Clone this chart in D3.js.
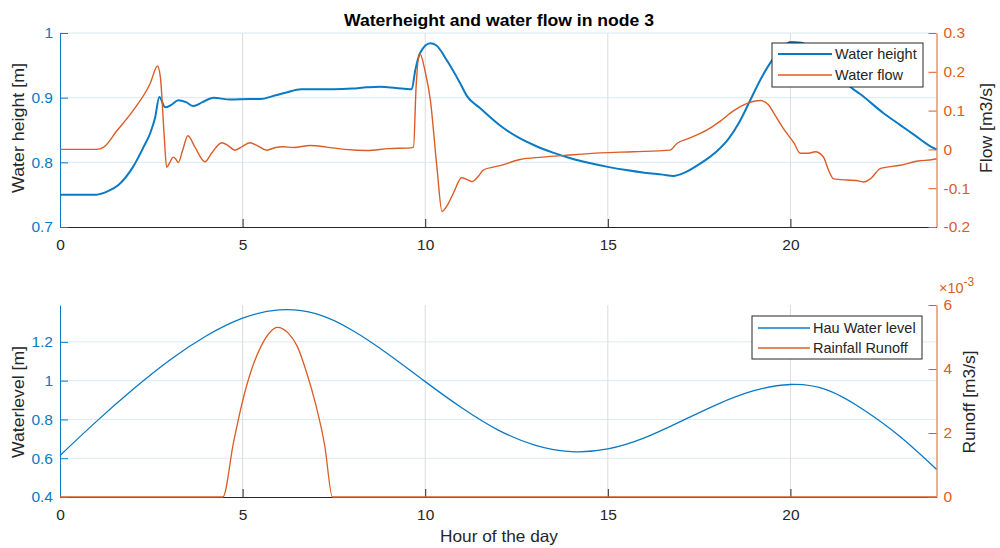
<!DOCTYPE html>
<html>
<head>
<meta charset="utf-8">
<script src="https://cdn.jsdelivr.net/npm/d3@7"></script>
<style>
  html, body { margin: 0; padding: 0; background: #fff; }
  svg { display: block; font-family: "Liberation Sans", Arial, Helvetica, sans-serif; }
</style>
</head>
<body>
<svg id="chart" width="1000" height="548"></svg>
<script>
// ---------------- DATA ----------------
const titleText = "Waterheight and water flow in node 3";
const xLabel = "Hour of the day";
const xTicks = [0, 5, 10, 15, 20];

// Top panel: water height [m] (left axis)
const waterHeight = [
  [0,0.75],[1.0,0.75],[1.3,0.755],[1.6,0.765],[2.0,0.793],[2.3,0.825],[2.47,0.845],[2.6,0.868],[2.72,0.901],
  [2.88,0.885],[3.05,0.889],[3.24,0.896],[3.45,0.893],[3.65,0.887],[3.9,0.893],[4.2,0.9],[4.66,0.897],
  [5.2,0.898],[5.5,0.898],[5.8,0.902],[6.2,0.908],[6.6,0.913],[7.0,0.913],[7.5,0.913],[8.0,0.914],
  [8.4,0.916],[8.77,0.917],[9.2,0.915],[9.63,0.913],[9.73,0.943],[9.86,0.969],[10.14,0.984],[10.3,0.981],
  [10.6,0.957],[10.96,0.922],[11.15,0.902],[11.5,0.884],[12.05,0.857],[12.5,0.84],[13.0,0.826],[13.5,0.815],
  [14.0,0.806],[14.5,0.799],[15.0,0.793],[15.5,0.788],[16.0,0.784],[16.5,0.781],[16.8,0.779],[17.1,0.784],
  [17.5,0.797],[18.0,0.818],[18.3,0.836],[18.6,0.862],[18.9,0.896],[19.2,0.93],[19.5,0.958],[19.8,0.978],
  [20.0,0.986],[20.3,0.985],[20.6,0.975],[21.0,0.952],[21.35,0.93],[21.7,0.914],[21.9,0.906],[22.55,0.876],
  [23.0,0.858],[23.4,0.842],[23.8,0.826],[24,0.82]
];
// Top panel: water flow [m3/s] (right axis)
const waterFlow = [
  [0,0],[1.0,0],[1.2,0.006],[1.54,0.046],[2.0,0.1],[2.47,0.17],[2.67,0.215],[2.75,0.185],[2.85,0.04],
  [2.92,-0.046],[3.0,-0.035],[3.1,-0.02],[3.17,-0.025],[3.24,-0.034],[3.35,-0.005],[3.5,0.035],[3.7,0.005],
  [3.97,-0.032],[4.15,-0.01],[4.43,0.017],[4.6,0.01],[4.79,-0.002],[5.0,0.008],[5.2,0.017],[5.4,0.01],
  [5.66,-0.002],[5.9,0.005],[6.1,0.007],[6.4,0.005],[6.85,0.01],[7.3,0.006],[7.8,0.0],[8.4,-0.003],
  [9.0,0.002],[9.59,0.004],[9.68,0.006],[9.75,0.16],[9.85,0.248],[10.0,0.2],[10.14,0.128],[10.32,-0.045],
  [10.46,-0.16],[10.6,-0.145],[10.77,-0.113],[11.0,-0.073],[11.15,-0.078],[11.28,-0.083],[11.45,-0.07],
  [11.6,-0.053],[12.05,-0.042],[12.6,-0.026],[13.2,-0.02],[13.88,-0.015],[14.8,-0.009],[15.7,-0.006],
  [16.7,-0.002],[16.9,0.016],[17.2,0.028],[17.53,0.041],[17.8,0.055],[18.08,0.073],[18.45,0.1],[18.8,0.118],
  [19.18,0.126],[19.4,0.115],[19.55,0.093],[19.8,0.055],[20.1,0.016],[20.27,-0.01],[20.5,-0.01],[20.68,-0.006],
  [20.9,-0.019],[21.05,-0.055],[21.18,-0.076],[21.55,-0.079],[21.8,-0.08],[22.0,-0.084],[22.2,-0.075],
  [22.47,-0.049],[23.0,-0.041],[23.5,-0.03],[23.9,-0.026],[24,-0.024]
];
const topLeftTicks = [0.7, 0.8, 0.9, 1];
const topLeftTickLabels = ["0.7", "0.8", "0.9", "1"];
const topRightTicks = [-0.2, -0.1, 0, 0.1, 0.2, 0.3];
const topRightTickLabels = ["-0.2", "-0.1", "0", "0.1", "0.2", "0.3"];
const topLegend = ["Water height", "Water flow"];

// Bottom panel: Hau water level [m] (left axis)
const hauWaterLevel = [
  [0,0.614],[1,0.79],[2,0.955],[3,1.105],[4,1.23],[5,1.322],[6,1.365],[7,1.345],[8,1.26],[9,1.135],
  [10,0.995],[11,0.86],[12,0.745],[13,0.668],[14,0.634],[15,0.648],[16,0.705],[17,0.79],[18,0.878],
  [19,0.948],[20,0.98],[21,0.952],[22,0.85],[23,0.712],[24,0.543]
];
// Bottom panel: rainfall runoff [m3/s] (right axis)
const rainfallRunoff = [
  [0,0],[4.46,0],[4.75,0.0017],[5.0,0.003],[5.25,0.004],[5.5,0.0047],[5.75,0.00515],[5.95,0.0053],
  [6.25,0.00512],[6.5,0.0047],[6.75,0.0039],[7.0,0.0029],[7.25,0.0016],[7.46,0],[24,0]
];
const botLeftTicks = [0.4, 0.6, 0.8, 1, 1.2];
const botLeftTickLabels = ["0.4", "0.6", "0.8", "1", "1.2"];
const botRightTicks = [0, 0.002, 0.004, 0.006];
const botRightTickLabels = ["0", "2", "4", "6"];
const botLegend = ["Hau Water level", "Rainfall Runoff"];

// ---------------- STYLE ----------------
const BLUE = "#0a7ac4", ORANGE = "#dc5c26", DARK = "#262626";
const GRID_GRAY = "#dcdcdc", GRID_BLUE = "#d9eaf5";
const svg = d3.select("#chart");

const x = d3.scaleLinear().domain([0, 24]).range([60, 936.5]);

function panel(cfg) {
  const g = svg.append("g");
  const yL = d3.scaleLinear().domain(cfg.leftDomain).range([cfg.bottom, cfg.top]);
  const yR = d3.scaleLinear().domain(cfg.rightDomain).range([cfg.bottom, cfg.top]);

  // horizontal grid (left axis colour)
  g.append("g").selectAll("line").data(cfg.leftTicks.filter(v => yL(v) < cfg.bottom - 1))
    .join("line")
    .attr("x1", x(0)).attr("x2", x(24))
    .attr("y1", d => yL(d)).attr("y2", d => yL(d))
    .attr("stroke", GRID_BLUE).attr("stroke-width", 1);
  // vertical grid
  g.append("g").selectAll("line").data(xTicks.filter(v => v > 0))
    .join("line")
    .attr("x1", d => x(d)).attr("x2", d => x(d))
    .attr("y1", cfg.top).attr("y2", cfg.bottom)
    .attr("stroke", GRID_GRAY).attr("stroke-width", 1);

  // x axis
  const xa = g.append("g").attr("transform", `translate(0,${cfg.bottom})`)
    .call(d3.axisBottom(x).tickValues(xTicks).tickFormat(d3.format("d"))
      .tickSizeInner(-8).tickSizeOuter(0).tickPadding(12));
  xa.select(".domain").attr("stroke", DARK);
  xa.selectAll(".tick line").attr("stroke", DARK);
  xa.selectAll("text").attr("fill", DARK).attr("font-size", 15.5);

  // left axis
  const la = g.append("g").attr("transform", `translate(${x(0)},0)`)
    .call(d3.axisLeft(yL).tickValues(cfg.leftTicks)
      .tickFormat((d, i) => cfg.leftLabels[i])
      .tickSizeInner(-8).tickSizeOuter(0).tickPadding(7));
  la.select(".domain").attr("stroke", BLUE);
  la.selectAll(".tick line").attr("stroke", BLUE);
  la.selectAll("text").attr("fill", BLUE).attr("font-size", 15.5);

  // right axis
  const ra = g.append("g").attr("transform", `translate(${x(24)},0)`)
    .call(d3.axisRight(yR).tickValues(cfg.rightTicks)
      .tickFormat((d, i) => cfg.rightLabels[i])
      .tickSizeInner(-8).tickSizeOuter(0).tickPadding(7));
  ra.select(".domain").attr("stroke", ORANGE);
  ra.selectAll(".tick line").attr("stroke", ORANGE);
  ra.selectAll("text").attr("fill", ORANGE).attr("font-size", 15.5);

  // lines
  const lineL = d3.line().x(d => x(d[0])).y(d => yL(d[1])).curve(cfg.curveL);
  const lineR = d3.line().x(d => x(d[0])).y(d => yR(d[1])).curve(d3.curveMonotoneX);
  g.append("path").datum(cfg.leftData).attr("d", lineL)
    .attr("fill", "none").attr("stroke", BLUE).attr("stroke-width", cfg.wL);
  g.append("path").datum(cfg.rightData).attr("d", lineR)
    .attr("fill", "none").attr("stroke", ORANGE).attr("stroke-width", cfg.wR);

  // axis labels
  g.append("text").attr("transform", `translate(${cfg.leftLabelX},${cfg.labelCy}) rotate(-90)`)
    .attr("text-anchor", "middle").attr("fill", DARK).attr("font-size", 16.5)
    .attr("textLength", cfg.leftLen).attr("lengthAdjust", "spacingAndGlyphs")
    .text(cfg.leftTitle);
  g.append("text").attr("transform", `translate(${cfg.rightLabelX},${cfg.labelCy}) rotate(-90)`)
    .attr("text-anchor", "middle").attr("fill", DARK).attr("font-size", 16.5)
    .attr("textLength", cfg.rightLen).attr("lengthAdjust", "spacingAndGlyphs")
    .text(cfg.rightTitle);

  // legend
  const L = cfg.legend;
  const lg = g.append("g");
  lg.append("rect").attr("x", L.x).attr("y", L.y).attr("width", L.w).attr("height", L.h)
    .attr("fill", "#fff").attr("stroke", DARK).attr("stroke-width", 1);
  const colors = [BLUE, ORANGE];
  const widths = [cfg.wL, cfg.wR];
  cfg.legendLabels.forEach((t, i) => {
    const yy = L.y + L.row0 + i * L.dy;
    lg.append("line").attr("x1", L.x + 6).attr("x2", L.x + 6 + L.sample)
      .attr("y1", yy).attr("y2", yy).attr("stroke", colors[i]).attr("stroke-width", widths[i]);
    lg.append("text").attr("x", L.x + 9 + L.sample).attr("y", yy).attr("dy", "0.35em")
      .attr("fill", DARK).attr("font-size", 14.5).text(t);
  });
  return { yL, yR };
}

panel({
  top: 33, bottom: 227, labelCy: 128,
  leftDomain: [0.7, 1], rightDomain: [-0.2, 0.3],
  leftTicks: topLeftTicks, leftLabels: topLeftTickLabels,
  rightTicks: topRightTicks, rightLabels: topRightTickLabels,
  leftData: waterHeight, rightData: waterFlow,
  curveL: d3.curveMonotoneX, wL: 2, wR: 1.4,
  leftTitle: "Water height [m]", rightTitle: "Flow [m3/s]",
  leftLabelX: 24, rightLabelX: 992, leftLen: 130, rightLen: 90,
  legend: { x: 772, y: 43, w: 151, h: 44, row0: 11, dy: 21, sample: 54 },
  legendLabels: topLegend
});

panel({
  top: 305, bottom: 497, labelCy: 402,
  leftDomain: [0.4, 1.39], rightDomain: [0, 0.006],
  leftTicks: botLeftTicks, leftLabels: botLeftTickLabels,
  rightTicks: botRightTicks, rightLabels: botRightTickLabels,
  leftData: hauWaterLevel, rightData: rainfallRunoff,
  curveL: d3.curveNatural, wL: 1.3, wR: 1.3,
  leftTitle: "Waterlevel [m]", rightTitle: "Runoff [m3/s]",
  leftLabelX: 24, rightLabelX: 975, leftLen: 112, rightLen: 103,
  legend: { x: 752, y: 316, w: 170, h: 43, row0: 12, dy: 20, sample: 52 },
  legendLabels: botLegend
});

// exponent label for runoff axis
const ex = svg.append("text").attr("x", 939).attr("y", 293).attr("fill", ORANGE).attr("font-size", 14.5);
ex.append("tspan").text("\u00d710");
ex.append("tspan").attr("dy", -7).attr("font-size", 12).text("-3");

// title and x label
svg.append("text").attr("x", 499).attr("y", 26).attr("text-anchor", "middle")
  .attr("font-weight", "bold").attr("font-size", 16.5).attr("fill", "#000")
  .attr("textLength", 310).attr("lengthAdjust", "spacingAndGlyphs").text(titleText);
svg.append("text").attr("x", 499).attr("y", 542).attr("text-anchor", "middle")
  .attr("font-size", 16.5).attr("fill", DARK)
  .attr("textLength", 118).attr("lengthAdjust", "spacingAndGlyphs").text(xLabel);
</script>
</body>
</html>
